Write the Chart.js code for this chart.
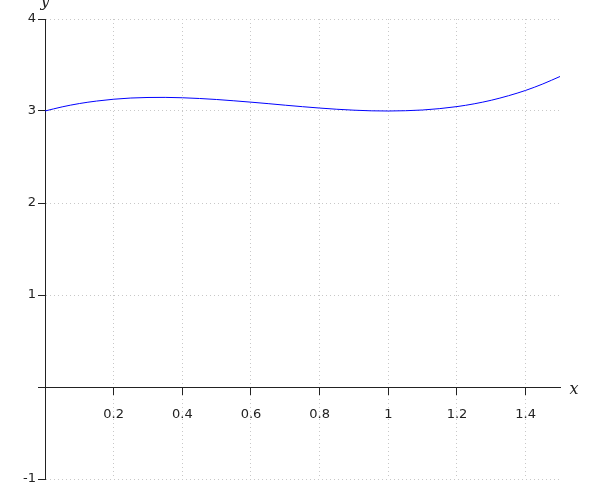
<!DOCTYPE html>
<html>
<head>
<meta charset="utf-8">
<script src="https://cdn.jsdelivr.net/npm/chart.js@4/dist/chart.umd.min.js"></script>
<style>
  html, body { margin: 0; padding: 0; background: #fff; }
  canvas { display: block; }
</style>
</head>
<body>
<canvas id="plot" width="600" height="500"></canvas>
<script>
// curve samples
const xValues = [0, 0.05, 0.1, 0.15, 0.2, 0.25, 0.3, 0.35, 0.4, 0.45, 0.5, 0.55, 0.6, 0.65, 0.7, 0.75,
  0.8, 0.85, 0.9, 0.95, 1, 1.05, 1.1, 1.15, 1.2, 1.25, 1.3, 1.35, 1.4, 1.45, 1.5];
const yValues = [3.0, 3.045, 3.081, 3.108, 3.128, 3.141, 3.147, 3.148, 3.144, 3.136, 3.125, 3.111, 3.096, 3.080, 3.063, 3.047,
  3.032, 3.019, 3.009, 3.002, 3.0, 3.003, 3.011, 3.026, 3.048, 3.078, 3.117, 3.166, 3.224, 3.294, 3.375];

// axis ticks
const xTicks = [0.2, 0.4, 0.6, 0.8, 1, 1.2, 1.4];
const xTickLabels = ['0.2', '0.4', '0.6', '0.8', '1', '1.2', '1.4'];
const yTicks = [-1, 0, 1, 2, 3, 4];
const yTickLabels = ['-1', '', '1', '2', '3', '4'];

const gridColor = '#c8c8c8';
const axisColor = '#222';

// the italic x / y names next to the axes
const axisNames = {
  id: 'axisNames',
  afterDraw(chart) {
    const { ctx, scales } = chart;
    ctx.save();
    ctx.fillStyle = axisColor;
    ctx.font = 'italic 16px "DejaVu Serif"';
    ctx.textAlign = 'center';
    ctx.textBaseline = 'alphabetic';
    ctx.fillText('x', scales.x.right + 14, scales.y.getPixelForValue(0) + 7);
    ctx.fillText('y', scales.x.getPixelForValue(0), scales.y.top - 13);
    ctx.restore();
  }
};

Chart.defaults.font.family = '"DejaVu Sans", sans-serif';
Chart.defaults.font.size = 13;
Chart.defaults.color = axisColor;

new Chart(document.getElementById('plot'), {
  type: 'line',
  data: {
    datasets: [{
      data: xValues.map((x, i) => ({ x: x, y: yValues[i] })),
      borderColor: '#0000ff',
      borderWidth: 1,
      pointRadius: 0,
      fill: false,
      cubicInterpolationMode: 'monotone'
    }]
  },
  options: {
    responsive: false,
    animation: false,
    layout: { padding: { left: 0, right: 40, top: 19, bottom: 21 } },
    plugins: { legend: { display: false }, tooltip: { enabled: false } },
    scales: {
      x: {
        type: 'linear',
        position: { y: 0 },
        min: 0,
        max: 1.5,
        afterBuildTicks: s => { s.ticks = xTicks.map(v => ({ value: v })); },
        afterFit: s => { s.height = 0; },
        ticks: {
          autoSkip: false,
          maxRotation: 0,
          padding: 13,
          callback: (v, i) => xTickLabels[i]
        },
        grid: { color: gridColor, lineWidth: 1, tickLength: 7, tickColor: axisColor, tickWidth: 1 },
        border: { display: true, color: axisColor, width: 1, dash: [1, 3] }
      },
      y: {
        type: 'linear',
        position: 'left',
        min: -1,
        max: 4,
        afterBuildTicks: s => { s.ticks = yTicks.map(v => ({ value: v })); },
        afterFit: s => { s.width = 45; },
        ticks: {
          autoSkip: false,
          padding: 2,
          callback: (v, i) => yTickLabels[i]
        },
        grid: { color: gridColor, lineWidth: 1, tickLength: 7, tickColor: axisColor, tickWidth: 1 },
        border: { display: true, color: axisColor, width: 1, dash: [1, 3] }
      }
    }
  },
  plugins: [axisNames]
});
</script>
</body>
</html>
